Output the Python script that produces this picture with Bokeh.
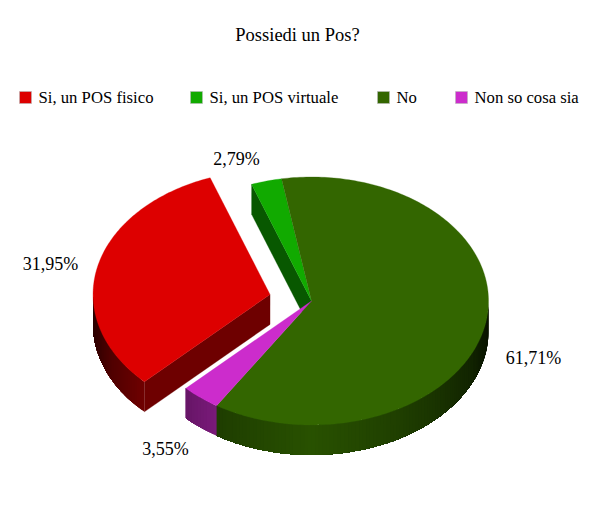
import math
from bokeh.plotting import figure
from bokeh.models import Range1d
from bokeh.core.properties import value
from bokeh.embed import file_html
from bokeh.resources import INLINE

title = "Possiedi un Pos?"
categories = ["Si, un POS fisico", "Si, un POS virtuale", "No", "Non so cosa sia"]
shares = [31.95, 2.79, 61.71, 3.55]
share_labels = ["31,95%", "2,79%", "61,71%", "3,55%"]
colors = ["#dd0000", "#11aa00", "#336600", "#cc2ccc"]
exploded = [True, False, False, False]

CX, CY, RX, RY, DEPTH = 311.0, 300.5, 177.0, 124.0, 30.0
START = -134.8
EXPLODE = 42.5
FONT = value("Liberation Serif")

p = figure(width=592, height=521, output_backend="svg", toolbar_location=None,
           x_range=Range1d(0, 592), y_range=Range1d(521, 0), min_border=0,
           outline_line_color=None, background_fill_color="white")
p.xaxis.visible = False
p.yaxis.visible = False
p.grid.visible = False


def shade(col, m):
    r, g, b = int(col[1:3], 16), int(col[3:5], 16), int(col[5:7], 16)
    return "#%02x%02x%02x" % (int(r * m), int(g * m), int(b * m))


def rim_mult(u):
    pts = [(0, .80), (.5, .62), (.72, .50), (.9, .36), (1, .20)]
    u = min(abs(u), 1)
    for (a, ma), (b, mb) in zip(pts, pts[1:]):
        if u <= b:
            return ma + (mb - ma) * (u - a) / (b - a)
    return .2


def pt(cx, cy, t):
    r = math.radians(t)
    return cx + RX * math.sin(r), cy - RY * math.cos(r)


# slice geometry from the values
total = sum(shares)
slices = []
a = START
for s, c, e in zip(shares, colors, exploded):
    b = a + 360 * s / total
    mid = math.radians((a + b) / 2)
    ox = EXPLODE * math.sin(mid) if e else 0
    oy = -EXPLODE * math.cos(mid) * RY / RX if e else 0
    slices.append(dict(a=a, b=b, cx=CX + ox, cy=CY + oy, col=c))
    a = b


def top(sl):
    n = max(4, int(sl["b"] - sl["a"]))
    pts = [pt(sl["cx"], sl["cy"], sl["a"] + (sl["b"] - sl["a"]) * i / n) for i in range(n + 1)]
    xs = [sl["cx"]] + [q[0] for q in pts]
    ys = [sl["cy"]] + [q[1] for q in pts]
    p.patch(xs, ys, fill_color=sl["col"], line_color=sl["col"], line_width=0.3)


def rim(sl):
    # front half of the ellipse is 90..270 degrees
    a0, b0 = sl["a"], sl["b"]
    if b0 < 90:
        a0 += 360
        b0 += 360
    lo, hi = max(a0, 90), min(b0, 270)
    if hi <= lo:
        return
    n = max(2, int((hi - lo) / 1.2))
    ts = [lo + (hi - lo) * i / n for i in range(n + 1)]
    # every strip reaches the far end of the rim, later strips paint over it,
    # so that no white shows through between neighbours
    for i in range(n):
        x0, y0 = pt(sl["cx"], sl["cy"], ts[i])
        x1, y1 = pt(sl["cx"], sl["cy"], ts[i + 1])
        u = ((x0 + x1) / 2 - sl["cx"]) / RX
        c = shade(sl["col"], rim_mult(u))
        tail = [pt(sl["cx"], sl["cy"], t) for t in ts[i:]]
        xs = [q[0] for q in tail] + [q[0] for q in reversed(tail)]
        ys = [q[1] for q in tail] + [q[1] + DEPTH for q in reversed(tail)]
        p.patch(xs, ys, fill_color=c, line_color=None)


def wall(sl, t, m):
    x, y = pt(sl["cx"], sl["cy"], t)
    c = shade(sl["col"], m)
    p.patch([sl["cx"], x, x, sl["cx"]], [sl["cy"], y, y + DEPTH, sl["cy"] + DEPTH],
            fill_color=c, line_color=c, line_width=0.3)


red, green, no, magenta = slices

wall(green, green["a"], 0.52)
top(green)
rim(no)
rim(magenta)
top(no)
top(magenta)
rim(red)
wall(red, red["a"], 0.50)
top(red)

# title
p.text([297], [34], text=[title], text_font=FONT, text_font_size="18.5px",
       text_align="center", text_baseline="middle", text_color="#000000")

# legend
box_x = [25, 196, 383, 461]
text_x = [38, 209, 396, 474]
p.rect(box_x, [97] * 4, width=12, height=12, fill_color=colors, line_color="#b8b8b8", line_width=0.6)
p.text(text_x, [97] * 4, text=categories, text_font=FONT, text_font_size="16.7px",
       text_align="left", text_baseline="middle", text_color="#000000")

# value labels
label_x = [50, 236, 533, 165]
label_y = [263, 158, 357, 448]
p.text(label_x, label_y, text=share_labels, text_font=FONT, text_font_size="18px",
       text_align="center", text_baseline="middle", text_color="#000000")

open("out.html", "w").write(file_html(p, INLINE))
